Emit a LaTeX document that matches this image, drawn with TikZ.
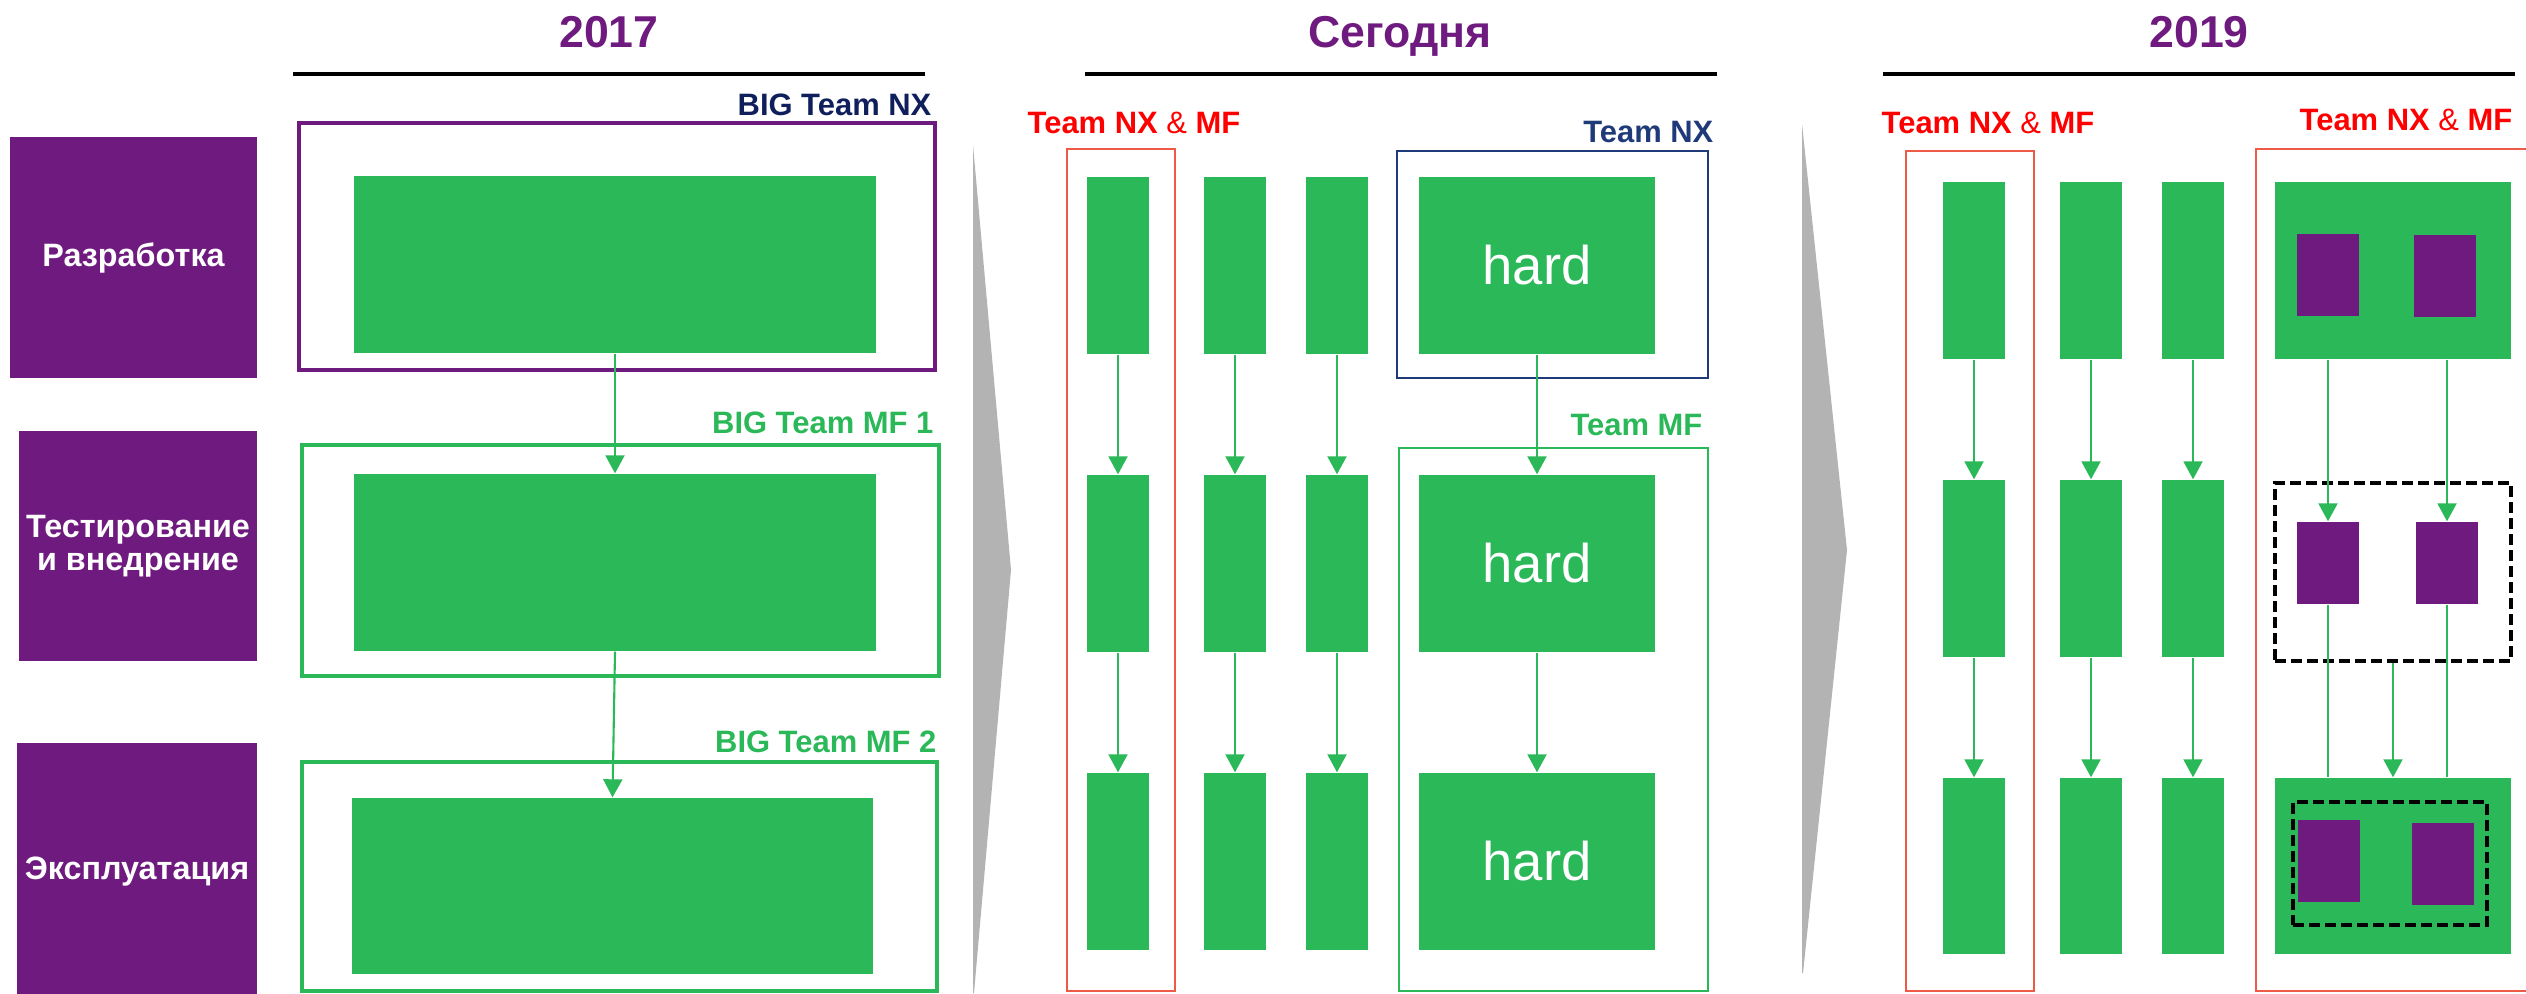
\documentclass[tikz,border=0pt]{standalone}
\usepackage{fontspec}
\setmainfont{Liberation Sans}
\usetikzlibrary{arrows.meta}

\definecolor{lilac}{HTML}{6F1A7E}
\definecolor{grn}{HTML}{2AB858}
\definecolor{navyD}{HTML}{0F1F5C}
\definecolor{navyM}{HTML}{1F3A78}
\definecolor{redT}{HTML}{FF0000}
\definecolor{redBox}{HTML}{EE5A45}
\definecolor{chevgray}{HTML}{B3B3B3}

\tikzset{
    greenbox/.style={fill=grn, inner sep=0pt},
    violetbox/.style={fill=lilac, inner sep=0pt, minimum width=0.62cm, minimum height=0.82cm},
    teamframe/.style={inner sep=0pt, line width=0.9pt},
    groupbox/.style={draw=black, inner sep=0pt, line width=0.9pt, dash pattern=on 1.1mm off 0.5mm},
    phase/.style={fill=lilac, text=white, inner sep=0pt, align=center, font=\bfseries\fontsize{9.2}{9.4}\selectfont},
    yearlabel/.style={anchor=base, text=lilac, inner sep=0pt, font=\bfseries\fontsize{12.7}{14}\selectfont},
    teamlabel/.style={inner sep=0pt, font=\bfseries\fontsize{8.8}{10}\selectfont},
    hardtext/.style={text=white, font=\fontsize{15.5}{18}\selectfont},
    flow/.style={draw=grn, line width=0.6pt, -{Triangle[length=1.8mm, width=1.9mm]}},
    link/.style={draw=grn, line width=0.6pt},
    headrule/.style={line width=1.2pt}
}

\begin{document}
\begin{tikzpicture}[x=1cm, y=-1cm]
    \clip (0,0) rectangle (25.26,9.93);

    \fill[chevgray] (9.73,1.45) -- (10.11,5.70) -- (9.74,9.93) -- (9.73,9.93) -- cycle;
    \fill[chevgray] (18.02,1.24) -- (18.47,5.50) -- (18.03,9.73) -- (18.02,9.73) -- cycle;

    \draw[headrule] (2.93,0.74) -- (9.25,0.74);
    \draw[headrule] (10.85,0.74) -- (17.17,0.74);
    \draw[headrule] (18.83,0.74) -- (25.15,0.74);

    \node[yearlabel] (y17) at (6.09, 0.47){2017};
    \node[yearlabel] (ynow) at (14.00, 0.47){Сегодня};
    \node[yearlabel] (y19) at (21.99, 0.47){2019};

    \node[phase, minimum width=2.47cm, minimum height=2.41cm] (dev) at (1.335, 2.575){Разработка};
    \node[phase, minimum width=2.38cm, minimum height=2.30cm] (test) at (1.38, 5.46){Тестирование\\и внедрение};
    \node[phase, minimum width=2.40cm, minimum height=2.57cm] (ops) at (1.37, 8.715){Эксплуатация};

    \node[teamframe, draw=lilac, minimum width=6.36cm, minimum height=2.47cm] (bignx) at (6.17, 2.465){};
    \node[teamframe, draw=grn, minimum width=6.37cm, minimum height=2.31cm] (bigmf1) at (6.205, 5.605){};
    \node[teamframe, draw=grn, minimum width=6.35cm, minimum height=2.29cm] (bigmf2) at (6.195, 8.765){};

    \node[teamlabel, text=navyD, anchor=base east] (bignxlbl) at (9.32, 1.15){BIG Team NX};
    \node[teamlabel, text=grn, anchor=base east] (bigmf1lbl) at (9.34, 4.33){BIG Team MF 1};
    \node[teamlabel, text=grn, anchor=base east] (bigmf2lbl) at (9.37, 7.52){BIG Team MF 2};

    \node[greenbox, minimum width=5.22cm, minimum height=1.77cm] (a1) at (6.15, 2.645){};
    \node[greenbox, minimum width=5.22cm, minimum height=1.77cm] (a2) at (6.15, 5.625){};
    \node[greenbox, minimum width=5.21cm, minimum height=1.76cm] (a3) at (6.125, 8.86){};

    \draw[flow] (a1.south) -- (a2.north);
    \draw[flow] (a2.south) -- (a3.north);

    \node[teamframe, draw=redBox, line width=0.7pt, minimum width=1.08cm, minimum height=8.42cm] (nowmix) at (11.21, 5.70){};
    \node[teamframe, draw=navyM, line width=0.7pt, minimum width=3.11cm, minimum height=2.27cm] (nownx) at (15.525, 2.645){};
    \node[teamframe, draw=grn, line width=0.7pt, minimum width=3.09cm, minimum height=5.43cm] (nowmf) at (15.535, 7.195){};

    \node[teamlabel, text=redT, anchor=base west] (nowmixlbl) at (10.27, 1.33){Team NX {\mdseries\&} MF};
    \node[teamlabel, text=navyM, anchor=base east] (nownxlbl) at (17.14, 1.42){Team NX};
    \node[teamlabel, text=grn, anchor=base east] (nowmflbl) at (17.03, 4.35){Team MF};

    \node[greenbox, minimum width=0.62cm, minimum height=1.77cm] (t11) at (11.18, 2.655){};
    \node[greenbox, minimum width=0.62cm, minimum height=1.77cm] (t12) at (11.18, 5.635){};
    \node[greenbox, minimum width=0.62cm, minimum height=1.77cm] (t13) at (11.18, 8.615){};
    \node[greenbox, minimum width=0.62cm, minimum height=1.77cm] (t21) at (12.35, 2.655){};
    \node[greenbox, minimum width=0.62cm, minimum height=1.77cm] (t22) at (12.35, 5.635){};
    \node[greenbox, minimum width=0.62cm, minimum height=1.77cm] (t23) at (12.35, 8.615){};
    \node[greenbox, minimum width=0.62cm, minimum height=1.77cm] (t31) at (13.37, 2.655){};
    \node[greenbox, minimum width=0.62cm, minimum height=1.77cm] (t32) at (13.37, 5.635){};
    \node[greenbox, minimum width=0.62cm, minimum height=1.77cm] (t33) at (13.37, 8.615){};
    \node[greenbox, hardtext, minimum width=2.36cm, minimum height=1.77cm] (t41) at (15.37, 2.655){hard};
    \node[greenbox, hardtext, minimum width=2.36cm, minimum height=1.77cm] (t42) at (15.37, 5.635){hard};
    \node[greenbox, hardtext, minimum width=2.36cm, minimum height=1.77cm] (t43) at (15.37, 8.615){hard};

    \draw[flow] (t11) -- (t12);
    \draw[flow] (t12) -- (t13);
    \draw[flow] (t21) -- (t22);
    \draw[flow] (t22) -- (t23);
    \draw[flow] (t31) -- (t32);
    \draw[flow] (t32) -- (t33);
    \draw[flow] (t41) -- (t42);
    \draw[flow] (t42) -- (t43);

    \node[teamframe, draw=redBox, line width=0.7pt, minimum width=1.28cm, minimum height=8.40cm] (futmix) at (19.70, 5.71){};
    \node[teamframe, draw=redBox, line width=0.7pt, minimum width=2.84cm, minimum height=8.42cm] (futbig) at (23.98, 5.70){};

    \node[teamlabel, text=redT, anchor=base west] (futmixlbl) at (18.81, 1.33){Team NX {\mdseries\&} MF};
    \node[teamlabel, text=redT, anchor=base west] (futbiglbl) at (22.99, 1.30){Team NX {\mdseries\&} MF};

    \node[greenbox, minimum width=0.62cm, minimum height=1.77cm] (f11) at (19.74, 2.705){};
    \node[greenbox, minimum width=0.62cm, minimum height=1.77cm] (f12) at (19.74, 5.685){};
    \node[greenbox, minimum width=0.62cm, minimum height=1.76cm] (f13) at (19.74, 8.66){};
    \node[greenbox, minimum width=0.62cm, minimum height=1.77cm] (f21) at (20.91, 2.705){};
    \node[greenbox, minimum width=0.62cm, minimum height=1.77cm] (f22) at (20.91, 5.685){};
    \node[greenbox, minimum width=0.62cm, minimum height=1.76cm] (f23) at (20.91, 8.66){};
    \node[greenbox, minimum width=0.62cm, minimum height=1.77cm] (f31) at (21.93, 2.705){};
    \node[greenbox, minimum width=0.62cm, minimum height=1.77cm] (f32) at (21.93, 5.685){};
    \node[greenbox, minimum width=0.62cm, minimum height=1.76cm] (f33) at (21.93, 8.66){};
    \node[greenbox, minimum width=2.36cm, minimum height=1.77cm] (f41) at (23.93, 2.705){};
    \node[groupbox, minimum width=2.36cm, minimum height=1.78cm] (f42) at (23.93, 5.72){};
    \node[greenbox, minimum width=2.36cm, minimum height=1.76cm] (f43) at (23.93, 8.66){};
    \node[groupbox, minimum width=1.94cm, minimum height=1.23cm] (f43grp) at (23.90, 8.635){};

    \node[violetbox] (p11) at (23.28, 2.745){};
    \node[violetbox] (p12) at (24.45, 2.76){};
    \node[violetbox] (p21) at (23.28, 5.63){};
    \node[violetbox] (p22) at (24.47, 5.63){};
    \node[violetbox] (p31) at (23.29, 8.61){};
    \node[violetbox] (p32) at (24.43, 8.635){};

    \draw[flow] (f11) -- (f12);
    \draw[flow] (f12) -- (f13);
    \draw[flow] (f21) -- (f22);
    \draw[flow] (f22) -- (f23);
    \draw[flow] (f31) -- (f32);
    \draw[flow] (f32) -- (f33);
    \draw[flow] (f41.south -| p21) -- (p21.north);
    \draw[flow] (f41.south -| p22) -- (p22.north);
    \draw[link] (p21.south) -- (p21.south |- f43.north);
    \draw[link] (p22.south) -- (p22.south |- f43.north);
    \draw[flow] (f42.south) -- (f43.north);
\end{tikzpicture}
\end{document}
